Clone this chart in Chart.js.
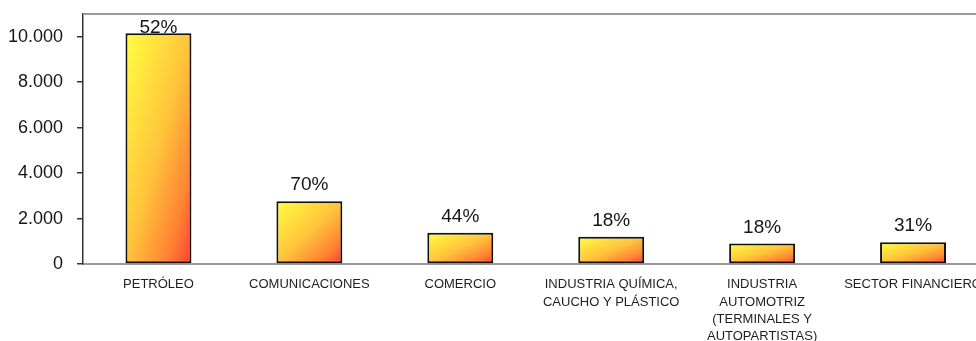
<!DOCTYPE html>
<html lang="es">
<head>
<meta charset="utf-8">
<title>Inversión por sector</title>
<script src="https://cdn.jsdelivr.net/npm/chart.js@4.4.1/dist/chart.umd.min.js"></script>
<style>
  html, body { margin: 0; padding: 0; background: #ffffff; overflow: hidden; }
  #wrap { position: relative; width: 1000px; height: 341px; }
</style>
</head>
<body>
<div id="wrap"><canvas id="chart"></canvas></div>
<script>
// Sectores (eje X)
const categories = [
  'PETRÓLEO',
  'COMUNICACIONES',
  'COMERCIO',
  ['INDUSTRIA QUÍMICA,', 'CAUCHO Y PLÁSTICO'],
  ['INDUSTRIA', 'AUTOMOTRIZ', '(TERMINALES Y', 'AUTOPARTISTAS)'],
  'SECTOR FINANCIERO'
];
// Montos por sector
const values = [10150, 2760, 1370, 1200, 900, 955];
// Porcentaje mostrado sobre cada barra
const shares = ['52%', '70%', '44%', '18%', '18%', '31%'];
// Marcas del eje Y
const yTicks = [0, 2000, 4000, 6000, 8000, 10000];
const yMax = 11000;

const FONT = '"Liberation Sans", Arial, Helvetica, sans-serif';

// Degradado diagonal amarillo -> rojo en el espacio normalizado de cada barra
const barGradients = {
  id: 'barGradients',
  beforeDatasetsDraw(chart) {
    const ctx = chart.ctx;
    chart.getDatasetMeta(0).data.forEach(bar => {
      const w = bar.width;
      const x0 = bar.x - w / 2;
      const y0 = Math.min(bar.y, bar.base);
      const h = Math.abs(bar.base - bar.y);
      if (!(w > 0 && h > 0)) return;
      const k = (2 * w * h) / (w * w + h * h);
      const g = ctx.createLinearGradient(x0, y0, x0 + k * h, y0 + k * w);
      g.addColorStop(0, '#ffff40');
      g.addColorStop(0.5, '#ffc43b');
      g.addColorStop(0.8, '#ff8434');
      g.addColorStop(1, '#ff3f31');
      // cada barra recibe su propio objeto de opciones
      bar.options = Object.assign({}, bar.options, { backgroundColor: g });
    });
  }
};

// Línea superior del marco del área de trazado
const topFrame = {
  id: 'topFrame',
  afterDraw(chart) {
    const { ctx, chartArea } = chart;
    ctx.save();
    ctx.strokeStyle = '#9a9a9a';
    ctx.lineWidth = 2;
    ctx.beginPath();
    ctx.moveTo(chartArea.left, chartArea.top);
    ctx.lineTo(chartArea.right + 20, chartArea.top);
    ctx.stroke();
    ctx.restore();
  }
};

// Porcentajes sobre las barras
const shareLabels = {
  id: 'shareLabels',
  afterDatasetsDraw(chart) {
    const { ctx, chartArea } = chart;
    const meta = chart.getDatasetMeta(0);
    ctx.save();
    ctx.font = '19px ' + FONT;
    ctx.fillStyle = '#161616';
    ctx.textAlign = 'center';
    ctx.textBaseline = 'alphabetic';
    meta.data.forEach((bar, i) => {
      const y = Math.max(bar.y - 11, chartArea.top + 19);
      ctx.fillText(shares[i], bar.x, y);
    });
    ctx.restore();
  }
};

new Chart(document.getElementById('chart'), {
  type: 'bar',
  data: {
    labels: categories,
    datasets: [{
      data: values,
      backgroundColor: '#ffc43b',
      borderColor: '#111111',
      borderWidth: 2,
      borderSkipped: false,
      barPercentage: 0.437,
      categoryPercentage: 1
    }]
  },
  options: {
    responsive: true,
    maintainAspectRatio: false,
    animation: false,
    events: [],
    layout: { padding: { top: 14, right: 11.5, left: 0, bottom: 0 } },
    plugins: {
      legend: { display: false },
      tooltip: { enabled: false }
    },
    scales: {
      x: {
        offset: true,
        grid: { display: false, drawTicks: false },
        border: { display: true, color: '#9a9a9a', width: 2 },
        ticks: {
          autoSkip: false,
          maxRotation: 0,
          minRotation: 0,
          padding: 12,
          color: '#1e1e1e',
          font: { family: FONT, size: 13, lineHeight: 1.33 }
        },
        afterFit(scale) {
          scale.height = 77;
          scale.paddingLeft = 0;
          scale.paddingRight = 0;
        }
      },
      y: {
        min: 0,
        max: yMax,
        grid: { display: true, drawOnChartArea: false, drawTicks: true, tickLength: 6, color: '#333333', lineWidth: 1.5 },
        border: { display: true, color: '#333333', width: 1.5 },
        ticks: {
          stepSize: 2000,
          padding: 14,
          color: '#161616',
          font: { family: FONT, size: 18 },
          callback: (v) => v.toLocaleString('de-DE')
        },
        afterBuildTicks(scale) {
          scale.ticks = yTicks.map(v => ({ value: v }));
        },
        afterFit(scale) {
          scale.width = 83;
          scale.paddingTop = 0;
          scale.paddingBottom = 0;
        }
      }
    }
  },
  plugins: [barGradients, topFrame, shareLabels]
});
</script>
</body>
</html>
